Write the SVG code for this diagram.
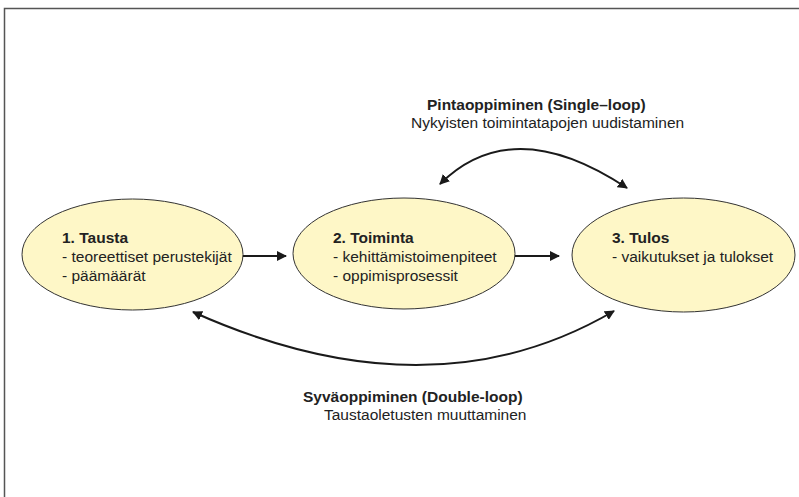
<svg xmlns="http://www.w3.org/2000/svg" width="799" height="497" viewBox="0 0 799 497">
  <defs>
    <marker id="arrow" viewBox="0 0 10 10" refX="9" refY="5" markerWidth="5" markerHeight="5" orient="auto-start-reverse" markerUnits="strokeWidth">
      <path d="M0,0 L10,5 L0,10 z" fill="#1a1a1a"/>
    </marker>
    <style>
      .frame { fill: none; stroke: #555; stroke-width: 1.5; }
      .node { fill: #fef7c7; stroke: #333; stroke-width: 1; }
      .edge { fill: none; stroke: #1a1a1a; stroke-width: 2; }
      text { font-family: "Liberation Sans", Arial, sans-serif; font-size: 15.5px; fill: #222; }
      .b { font-weight: bold; }
    </style>
  </defs>

  <rect width="799" height="497" fill="#fff"/>
  <path class="frame" d="M4.5,497 V8.5 H799"/>

  <g id="node-tausta">
    <ellipse class="node" cx="132.5" cy="254.5" rx="110.5" ry="55.5"/>
    <text x="62" y="243"><tspan class="b">1. Tausta</tspan><tspan x="62" dy="19">- teoreettiset perustekijät</tspan><tspan x="62" dy="19">- päämäärät</tspan></text>
  </g>

  <g id="node-toiminta">
    <ellipse class="node" cx="404" cy="253.5" rx="111" ry="55.5"/>
    <text x="333" y="243"><tspan class="b">2. Toiminta</tspan><tspan x="333" dy="19">- kehittämistoimenpiteet</tspan><tspan x="333" dy="19">- oppimisprosessit</tspan></text>
  </g>

  <g id="node-tulos">
    <ellipse class="node" cx="683.5" cy="255" rx="111.5" ry="57"/>
    <text x="612" y="243"><tspan class="b">3. Tulos</tspan><tspan x="612" dy="19">- vaikutukset ja tulokset</tspan></text>
  </g>

  <g id="connectors">
    <path class="edge" d="M243,256 H286" marker-end="url(#arrow)"/>
    <path class="edge" d="M515,256 H559" marker-end="url(#arrow)"/>
    <path class="edge" d="M440,184 Q512.5,112 627,188" marker-start="url(#arrow)" marker-end="url(#arrow)"/>
    <path class="edge" d="M193,312 Q430.5,418.5 614,311" marker-start="url(#arrow)" marker-end="url(#arrow)"/>
  </g>

  <g id="label-single-loop">
    <text x="427" y="110" class="b">Pintaoppiminen (Single–loop)</text>
    <text x="411" y="128">Nykyisten toimintatapojen uudistaminen</text>
  </g>

  <g id="label-double-loop">
    <text x="303" y="402" class="b">Syväoppiminen (Double-loop)</text>
    <text x="324" y="420">Taustaoletusten muuttaminen</text>
  </g>
</svg>
